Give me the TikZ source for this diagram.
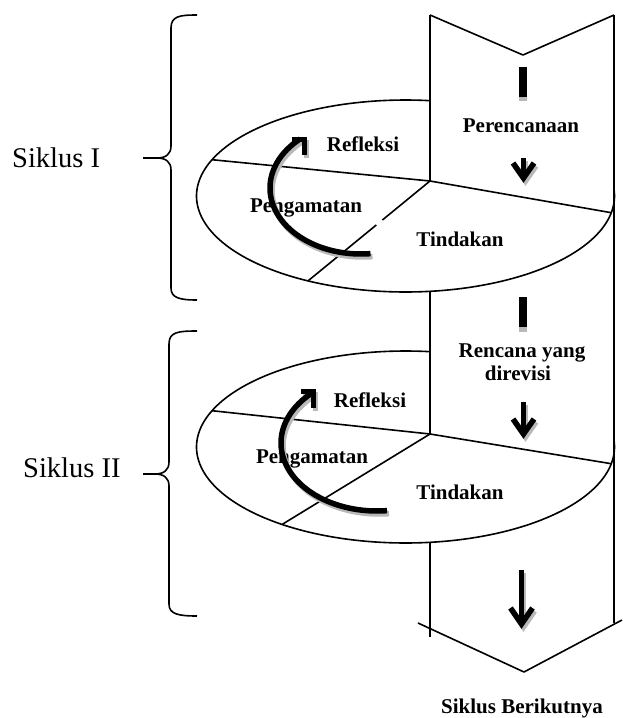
\documentclass[tikz,border=0pt]{standalone}
\usepackage{fontspec}
\setmainfont{Liberation Serif}
\begin{document}
\begin{tikzpicture}[x=1pt,y=-1pt,
  ln/.style={line width=1.6pt, line join=round},
  lbl/.style={font=\fontsize{21}{24}\selectfont\bfseries, inner sep=0pt, anchor=base},
  siklus/.style={font=\fontsize{28.5}{32}\selectfont, inner sep=0pt, anchor=base west},
  thickarrow/.style={line width=5.5pt, line cap=butt, line join=miter},
  curved/.style={line width=5.5pt, line cap=butt}]
\useasboundingbox (0,0) rectangle (622,718);

% ---------- named points ----------
\coordinate (c1) at (430,181);
\coordinate (c2) at (430,434);
\coordinate (l1) at (212,159.7);
\coordinate (r1) at (611.3,212.7);
\coordinate (l2) at (212,410.7);
\coordinate (r2) at (611.3,463.7);
\coordinate (d1) at (308,280.9);
\coordinate (d2) at (282,524.5);

% ---------- column (ribbon) ----------
\draw[ln] (430,15) -- (523,55) -- (614,15);
\draw[ln] (430,15) -- (c1);
\draw[ln] (430,291.3) -- (c2);
\draw[ln] (430,542.3) -- (430,637);
\draw[ln] (614,15) -- (614,623);
\draw[ln] (418,623) -- (524,672) -- (622,620);

% ---------- ellipses ----------
\draw[ln] plot[domain=-3:276.75, samples=150, variable=\t] ({405.5+209*cos(\t)}, {196+96*sin(\t)});
\draw[ln] plot[domain=-3:276.75, samples=150, variable=\t] ({405.5+209*cos(\t)}, {447+96*sin(\t)});
\draw[ln] (l1) -- (c1) -- (r1);
\draw[ln] (l2) -- (c2) -- (r2);
\draw[ln] (c1) -- (382.4,220);
\draw[ln] (376.3,225) -- (d1);
\draw[ln] (c2) -- (d2);

% ---------- braces ----------
\draw[ln] (197,15) .. controls (180,15) and (171,16) .. (171,28) -- (171,146)
  .. controls (171,154) and (166,158) .. (157,158) -- (143,158);
\draw[ln] (157,158) .. controls (166,158) and (171,162) .. (171,170) -- (171,288)
  .. controls (171,298) and (180,300) .. (197,300);
\draw[ln] (197,331) .. controls (178,331) and (169,332) .. (169,344) -- (169,462)
  .. controls (169,470) and (164,474) .. (155,474) -- (143,474);
\draw[ln] (155,474) .. controls (164,474) and (169,478) .. (169,486) -- (169,604)
  .. controls (169,614) and (178,616) .. (197,616);

% ---------- texts ----------
\node[siklus] (s1) at (12,167) {Siklus I};
\node[siklus] (s2) at (23,477) {Siklus II};
\node[lbl] (ref1) at (363,151) {Refleksi};
\node[lbl] (pen1) at (306,212) {Pengamatan};
\node[lbl] (tin1) at (460,246) {Tindakan};
\node[lbl] (per) at (521,132) {Perencanaan};
\node[lbl] (ref2) at (370,407) {Refleksi};
\node[lbl] (pen2) at (312,463) {Pengamatan};
\node[lbl] (tin2) at (460,499) {Tindakan};
\node[lbl] (rev1) at (522,357) {Rencana yang};
\node[lbl] (rev2) at (518,380) {direvisi};
\node[lbl] (next) at (522,713) {Siklus Berikutnya};

% ---------- arrows with shadows ----------
\foreach \dx/\dy/\col in {2/3/gray!55, 0/0/black}{
  \begin{scope}[shift={(\dx,\dy)}]
    % curved arrow 1
    \draw[curved, \col] plot[domain=84:228, samples=80, variable=\t]
      ({361+91*cos(\t)}, {188+66*sin(\t)});
    \draw[thickarrow, \col] (292,139.5) -- (304.5,139.5) -- (304.5,155);
    % curved arrow 2
    \draw[curved, \col] plot[domain=84:228, samples=80, variable=\t]
      ({377+96*cos(\t)}, {443+68*sin(\t)});
    \draw[thickarrow, \col] (301,391.5) -- (313.5,391.5) -- (313.5,408);
    % down arrows in the column
    \draw[thickarrow, \col] (523.5,158) -- (523.5,176);
    \draw[thickarrow, \col] (513,163) -- (523.5,178) -- (534,163);
    \draw[thickarrow, \col] (523.5,402) -- (523.5,432);
    \draw[thickarrow, \col] (513,419) -- (523.5,434) -- (534,419);
    \draw[thickarrow, \col] (521.5,570) -- (521.5,622);
    \draw[thickarrow, \col] (510.5,608) -- (521.5,624) -- (532.5,608);
  \end{scope}
}
% bars
\fill[gray!55] (519,70) rectangle (527,101);
\fill[black] (519,67) rectangle (527,97);
\fill[gray!55] (519,300) rectangle (527,332);
\fill[black] (519,297) rectangle (527,327);
\end{tikzpicture}
\end{document}
